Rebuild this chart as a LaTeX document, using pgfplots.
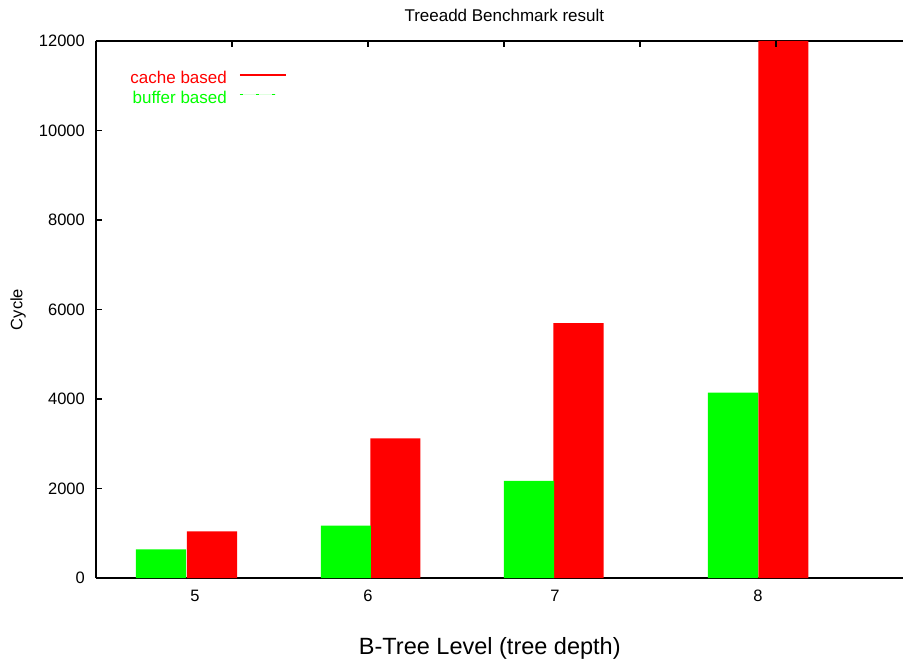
\documentclass[border=0pt]{standalone}
\usepackage{fontspec}
\setmainfont{Liberation Sans}
\usepackage{pgfplots}
\pgfplotsset{compat=1.18}
\definecolor{gred}{RGB}{255,0,0}
\definecolor{ggreen}{RGB}{0,255,0}

% x unit = distance between the top ticks (136 px), x = 0 at the left spine
\pgfplotstableread{
x      y
0.853  1043
2.202  3121
3.548  5698
5.055  12000
}\cachebased
\pgfplotstableread{
x      y
0.478  640
1.838  1169
3.184  2168
4.684  4141
}\bufferbased

\begin{document}
\begin{tikzpicture}
\begin{axis}[
  name=ax,
  scale only axis,
  width=807pt, height=537pt,
  xmin=0, xmax=5.934,
  ymin=0, ymax=12000,
  axis x line*=box,
  axis y line*=left,
  axis line style={line width=1.3pt, black},
  xtick={0.728,2.0,3.375,4.868},
  xticklabels={5,6,7,8},
  xtick style={draw=none},
  ytick={0,2000,...,12000},
  ytick style={line width=1.3pt, black},
  tick align=inside,
  major tick length=6pt,
  scaled y ticks=false,
  /pgf/number format/assume math mode=true,
  /pgf/number format/1000 sep={},
  tick label style={font=\fontsize{16.5}{19}\selectfont},
  xticklabel style={inner sep=0pt, yshift=-12pt},
  yticklabel style={inner sep=0pt, xshift=-11pt},
  title={Treeadd Benchmark result},
  title style={at={(rel axis cs:0.506,1)}, yshift=20pt, anchor=center, font=\fontsize{17}{20}\selectfont},
  xlabel={B-Tree Level (tree depth)},
  every axis x label/.style={at={(rel axis cs:0.488,0)}, yshift=-70pt, anchor=center, font=\fontsize{23.5}{27}\selectfont},
  ylabel={Cycle},
  every axis y label/.style={at={(rel axis cs:0,0.5)}, xshift=-78pt, anchor=center, rotate=90, font=\fontsize{16.5}{19}\selectfont},
  legend plot pos=right,
  legend cell align=right,
  legend style={draw=none, fill=none, inner sep=0pt, row sep=2pt,
    at={(axis description cs:0.040,0.948)}, anchor=north west,
    font=\fontsize{17}{19}\selectfont},
  clip=true,
]
\addplot[ybar, bar width=0.368, bar shift=0pt, fill=gred, draw=none,
  legend image code/.code={\path (0pt,3pt); \draw[draw=gred, line width=1.1pt] (11pt,3pt) -- (57pt,3pt);}]
  table[x=x, y=y] {\cachebased};
\addlegendentry{\textcolor{gred}{cache based}}
\addplot[ybar, bar width=0.368, bar shift=0pt, fill=ggreen, draw=none,
  legend image code/.code={\path (0pt,3pt); \draw[draw=ggreen, line width=1.2pt, dash pattern=on 3pt off 13pt] (11pt,3pt) -- (47pt,3pt); \path (57pt,3pt);}]
  table[x=x, y=y] {\bufferbased};
\addlegendentry{\textcolor{ggreen}{buffer based}}
% tick marks along the top edge (gnuplot mirror tics)
\pgfplotsinvokeforeach{1,2,3,4,5}{
  \draw[line width=1.3pt, black] (axis cs:#1,12000) -- ++(0,-6pt);
}
\end{axis}
\pgfresetboundingbox
\path ([xshift=-96pt, yshift=-86pt]ax.south west) rectangle ([yshift=41pt]ax.north east);
\end{tikzpicture}
\end{document}
